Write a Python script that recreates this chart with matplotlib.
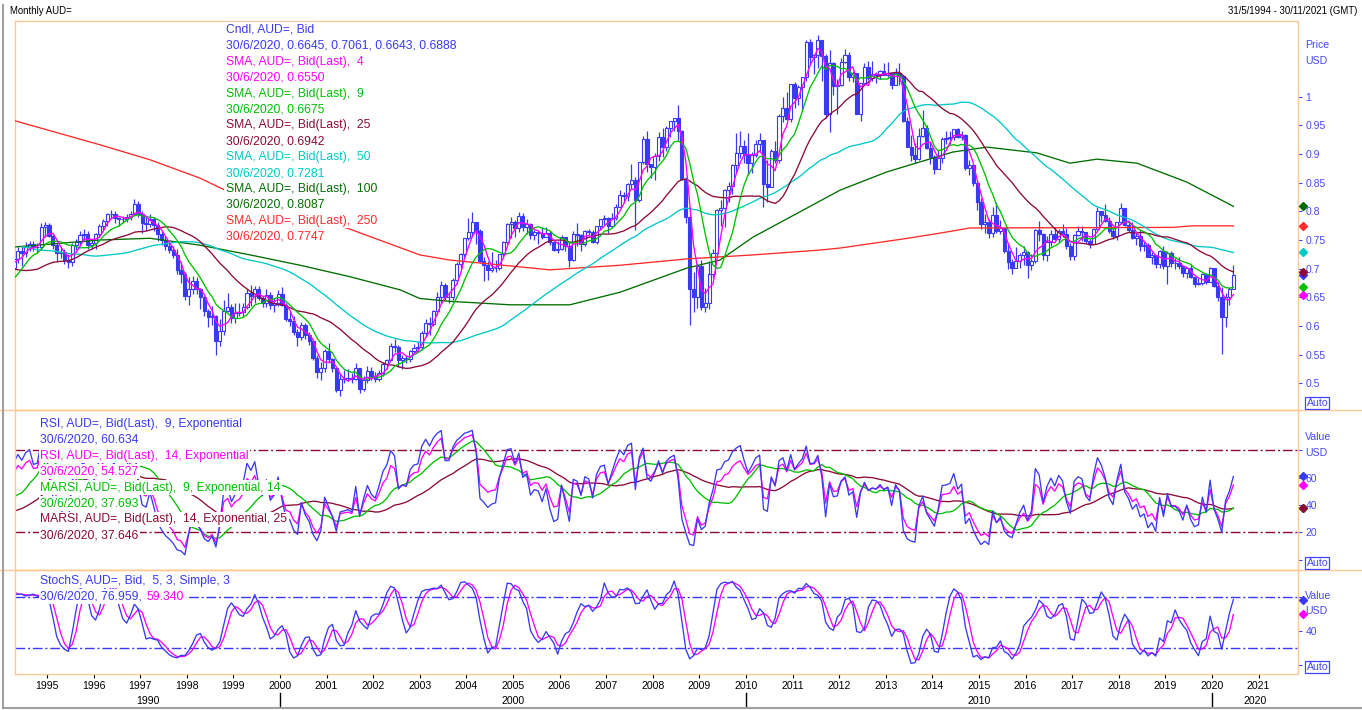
import numpy as np
import pandas as pd
import matplotlib
matplotlib.use("Agg")
import matplotlib.pyplot as plt
from matplotlib.lines import Line2D
from matplotlib.transforms import blended_transform_factory

plt.rcParams['font.family'] = ['Liberation Sans', 'DejaVu Sans']

W, H = 1362, 710

# Monthly AUD= bid, May 1990 .. Jun 2020 (open = previous month close)
first_open = 0.760
close = np.array([
    0.778, 0.795, 0.815, 0.822, 0.818, 0.791, 0.776, 0.772,                # 1990 May-Dec
    0.779, 0.778, 0.771, 0.780, 0.774, 0.762, 0.779, 0.791, 0.798, 0.790, 0.780, 0.760,
    0.748, 0.752, 0.762, 0.758, 0.752, 0.745, 0.738, 0.712, 0.711, 0.693, 0.689, 0.688,
    0.680, 0.702, 0.708, 0.712, 0.692, 0.674, 0.678, 0.662, 0.648, 0.658, 0.662, 0.679,
    0.708, 0.712, 0.702, 0.717, 0.730, 0.727, 0.738, 0.743, 0.737, 0.738, 0.772, 0.777,
    0.757, 0.741, 0.728, 0.729, 0.715, 0.711, 0.741, 0.746, 0.758, 0.761, 0.741, 0.744,
    0.760, 0.775, 0.783, 0.796, 0.796, 0.788, 0.786, 0.787, 0.790, 0.795, 0.813, 0.795,
    0.780, 0.778, 0.786, 0.776, 0.760, 0.750, 0.740, 0.733, 0.723, 0.697, 0.690, 0.652,
    0.665, 0.678, 0.665, 0.651, 0.626, 0.615, 0.618, 0.573, 0.591, 0.627, 0.633, 0.614,
    0.622, 0.625, 0.633, 0.658, 0.653, 0.665, 0.649, 0.640, 0.654, 0.636, 0.640, 0.656,
    0.637, 0.612, 0.609, 0.590, 0.580, 0.602, 0.585, 0.574, 0.544, 0.520, 0.527, 0.557,
    0.543, 0.526, 0.489, 0.508, 0.509, 0.510, 0.507, 0.526, 0.490, 0.506, 0.521, 0.512,
    0.508, 0.518, 0.533, 0.541, 0.566, 0.563, 0.540, 0.544, 0.543, 0.557, 0.562, 0.563,
    0.587, 0.606, 0.603, 0.626, 0.650, 0.671, 0.651, 0.651, 0.681, 0.708, 0.726, 0.753,
    0.764, 0.781, 0.766, 0.713, 0.706, 0.698, 0.701, 0.702, 0.725, 0.746, 0.778, 0.781,
    0.771, 0.792, 0.773, 0.778, 0.759, 0.764, 0.763, 0.755, 0.763, 0.747, 0.733, 0.734,
    0.755, 0.740, 0.716, 0.760, 0.758, 0.743, 0.766, 0.764, 0.746, 0.774, 0.787, 0.789,
    0.775, 0.789, 0.808, 0.829, 0.826, 0.848, 0.855, 0.819, 0.886, 0.927, 0.883, 0.877,
    0.897, 0.929, 0.913, 0.945, 0.957, 0.963, 0.940, 0.856, 0.790, 0.665, 0.650, 0.704,
    0.633, 0.640, 0.691, 0.728, 0.802, 0.806, 0.837, 0.844, 0.881, 0.901, 0.914, 0.898,
    0.884, 0.898, 0.917, 0.924, 0.847, 0.842, 0.905, 0.889, 0.967, 0.980, 0.961, 1.022,
    0.998, 1.017, 1.034, 1.096, 1.070, 1.073, 1.098, 1.071, 0.970, 1.059, 1.018, 1.020,
    1.061, 1.073, 1.034, 1.041, 0.969, 1.024, 1.052, 1.033, 1.039, 1.037, 1.044, 1.038,
    1.041, 1.021, 1.042, 1.036, 0.957, 0.913, 0.898, 0.891, 0.932, 0.946, 0.911, 0.894,
    0.874, 0.893, 0.927, 0.928, 0.930, 0.943, 0.929, 0.934, 0.875, 0.880, 0.850, 0.817,
    0.778, 0.781, 0.762, 0.794, 0.765, 0.771, 0.730, 0.711, 0.702, 0.713, 0.723, 0.729,
    0.706, 0.713, 0.767, 0.760, 0.723, 0.746, 0.760, 0.751, 0.766, 0.761, 0.739, 0.722,
    0.759, 0.766, 0.764, 0.748, 0.743, 0.769, 0.800, 0.794, 0.784, 0.765, 0.757, 0.781,
    0.806, 0.777, 0.768, 0.753, 0.757, 0.740, 0.742, 0.720, 0.723, 0.708, 0.731, 0.705,
    0.727, 0.710, 0.710, 0.705, 0.693, 0.702, 0.685, 0.674, 0.675, 0.690, 0.676, 0.702,
    0.669, 0.651, 0.615, 0.651, 0.6645, 0.6888,                            # 2020 Jan-Jun
])
high = np.array([
    0.782, 0.800, 0.820, 0.835, 0.830, 0.822, 0.795, 0.785,
    0.785, 0.790, 0.782, 0.785, 0.785, 0.778, 0.782, 0.795, 0.805, 0.800, 0.793, 0.782,
    0.765, 0.760, 0.765, 0.765, 0.762, 0.756, 0.748, 0.740, 0.725, 0.715, 0.698, 0.695,
    0.695, 0.708, 0.716, 0.720, 0.718, 0.698, 0.690, 0.682, 0.667, 0.662, 0.670, 0.682,
    0.712, 0.723, 0.720, 0.722, 0.738, 0.740, 0.746, 0.748, 0.748, 0.745, 0.780, 0.782,
    0.780, 0.762, 0.745, 0.738, 0.735, 0.725, 0.745, 0.752, 0.765, 0.770, 0.765, 0.750,
    0.762, 0.778, 0.787, 0.797, 0.803, 0.800, 0.790, 0.792, 0.795, 0.800, 0.822, 0.818,
    0.800, 0.790, 0.795, 0.790, 0.782, 0.765, 0.757, 0.745, 0.740, 0.735, 0.712, 0.695,
    0.685, 0.688, 0.685, 0.667, 0.652, 0.630, 0.635, 0.620, 0.612, 0.645, 0.657, 0.638,
    0.640, 0.640, 0.640, 0.665, 0.672, 0.670, 0.670, 0.653, 0.665, 0.660, 0.648, 0.662,
    0.668, 0.640, 0.625, 0.617, 0.595, 0.607, 0.605, 0.590, 0.578, 0.550, 0.537, 0.560,
    0.570, 0.545, 0.527, 0.518, 0.523, 0.525, 0.518, 0.535, 0.527, 0.512, 0.530, 0.528,
    0.520, 0.524, 0.538, 0.543, 0.570, 0.577, 0.567, 0.550, 0.550, 0.558, 0.568, 0.573,
    0.591, 0.612, 0.615, 0.628, 0.660, 0.678, 0.675, 0.660, 0.683, 0.712, 0.728, 0.753,
    0.788, 0.798, 0.780, 0.770, 0.720, 0.713, 0.729, 0.716, 0.726, 0.748, 0.780, 0.790,
    0.785, 0.799, 0.797, 0.787, 0.780, 0.768, 0.766, 0.772, 0.772, 0.766, 0.748, 0.748,
    0.759, 0.753, 0.746, 0.765, 0.780, 0.760, 0.768, 0.770, 0.767, 0.775, 0.787, 0.794,
    0.790, 0.797, 0.812, 0.838, 0.834, 0.849, 0.882, 0.860, 0.886, 0.932, 0.940, 0.883,
    0.901, 0.939, 0.945, 0.949, 0.958, 0.963, 0.985, 0.942, 0.860, 0.808, 0.695, 0.710,
    0.716, 0.666, 0.713, 0.735, 0.804, 0.820, 0.839, 0.852, 0.883, 0.936, 0.940, 0.925,
    0.937, 0.903, 0.924, 0.937, 0.925, 0.890, 0.909, 0.922, 0.970, 0.999, 1.009, 1.022,
    1.025, 1.021, 1.035, 1.098, 1.101, 1.074, 1.108, 1.078, 1.075, 1.081, 1.061, 1.030,
    1.067, 1.084, 1.078, 1.045, 1.041, 1.024, 1.058, 1.062, 1.062, 1.043, 1.047, 1.058,
    1.060, 1.042, 1.050, 1.059, 1.036, 0.964, 0.934, 0.920, 0.945, 0.976, 0.950, 0.921,
    0.898, 0.907, 0.930, 0.941, 0.940, 0.944, 0.946, 0.941, 0.935, 0.890, 0.883, 0.855,
    0.823, 0.795, 0.787, 0.807, 0.817, 0.785, 0.773, 0.743, 0.717, 0.738, 0.727, 0.739,
    0.731, 0.725, 0.769, 0.784, 0.763, 0.757, 0.768, 0.773, 0.770, 0.778, 0.771, 0.745,
    0.761, 0.775, 0.775, 0.764, 0.751, 0.771, 0.807, 0.800, 0.813, 0.791, 0.773, 0.781,
    0.814, 0.806, 0.783, 0.781, 0.762, 0.768, 0.748, 0.745, 0.729, 0.721, 0.733, 0.739,
    0.730, 0.730, 0.718, 0.721, 0.707, 0.702, 0.708, 0.686, 0.684, 0.693, 0.692, 0.703,
    0.7016, 0.6775, 0.6685, 0.6570, 0.6683, 0.7061,
])
low = np.array([
    0.755, 0.772, 0.790, 0.805, 0.805, 0.785, 0.770, 0.765,
    0.766, 0.772, 0.765, 0.768, 0.768, 0.755, 0.758, 0.775, 0.787, 0.785, 0.775, 0.755,
    0.745, 0.742, 0.750, 0.752, 0.748, 0.738, 0.732, 0.708, 0.702, 0.688, 0.680, 0.676,
    0.665, 0.676, 0.696, 0.698, 0.688, 0.668, 0.665, 0.658, 0.643, 0.640, 0.652, 0.658,
    0.677, 0.702, 0.695, 0.698, 0.710, 0.705, 0.720, 0.730, 0.730, 0.728, 0.735, 0.755,
    0.755, 0.735, 0.712, 0.718, 0.708, 0.702, 0.705, 0.732, 0.740, 0.750, 0.735, 0.735,
    0.735, 0.755, 0.768, 0.775, 0.786, 0.780, 0.775, 0.780, 0.782, 0.785, 0.792, 0.790,
    0.762, 0.768, 0.772, 0.765, 0.748, 0.742, 0.732, 0.727, 0.718, 0.690, 0.675, 0.645,
    0.637, 0.655, 0.655, 0.630, 0.618, 0.598, 0.602, 0.550, 0.565, 0.585, 0.625, 0.605,
    0.605, 0.618, 0.618, 0.630, 0.635, 0.640, 0.645, 0.633, 0.633, 0.630, 0.625, 0.635,
    0.635, 0.608, 0.600, 0.585, 0.565, 0.575, 0.578, 0.567, 0.540, 0.510, 0.506, 0.520,
    0.536, 0.520, 0.485, 0.478, 0.500, 0.504, 0.500, 0.505, 0.484, 0.487, 0.500, 0.505,
    0.502, 0.504, 0.513, 0.525, 0.540, 0.554, 0.528, 0.525, 0.535, 0.538, 0.553, 0.554,
    0.558, 0.580, 0.585, 0.600, 0.620, 0.640, 0.645, 0.640, 0.645, 0.673, 0.700, 0.718,
    0.750, 0.755, 0.743, 0.710, 0.678, 0.680, 0.695, 0.695, 0.698, 0.721, 0.743, 0.754,
    0.755, 0.764, 0.766, 0.760, 0.752, 0.750, 0.743, 0.751, 0.755, 0.742, 0.730, 0.727,
    0.732, 0.731, 0.703, 0.713, 0.740, 0.731, 0.740, 0.759, 0.745, 0.743, 0.767, 0.777,
    0.763, 0.773, 0.785, 0.807, 0.814, 0.818, 0.840, 0.768, 0.816, 0.883, 0.868, 0.858,
    0.855, 0.888, 0.895, 0.906, 0.930, 0.940, 0.925, 0.854, 0.780, 0.601, 0.625, 0.632,
    0.628, 0.625, 0.629, 0.683, 0.721, 0.775, 0.772, 0.817, 0.830, 0.868, 0.893, 0.884,
    0.863, 0.867, 0.894, 0.903, 0.807, 0.816, 0.845, 0.885, 0.884, 0.956, 0.960, 0.955,
    0.980, 0.985, 0.977, 1.027, 1.055, 1.039, 1.050, 1.027, 0.963, 0.939, 1.003, 0.970,
    1.019, 1.058, 1.027, 1.026, 0.969, 0.958, 1.020, 1.029, 1.027, 1.023, 1.031, 1.037,
    1.034, 1.013, 1.029, 1.021, 0.956, 0.913, 0.887, 0.885, 0.889, 0.930, 0.909, 0.882,
    0.865, 0.880, 0.885, 0.918, 0.918, 0.924, 0.928, 0.925, 0.872, 0.863, 0.845, 0.803,
    0.769, 0.762, 0.753, 0.756, 0.762, 0.760, 0.727, 0.700, 0.690, 0.701, 0.702, 0.706,
    0.683, 0.697, 0.710, 0.748, 0.715, 0.713, 0.739, 0.750, 0.746, 0.755, 0.735, 0.716,
    0.716, 0.757, 0.749, 0.745, 0.736, 0.743, 0.767, 0.782, 0.782, 0.762, 0.752, 0.750,
    0.779, 0.774, 0.764, 0.752, 0.741, 0.731, 0.731, 0.720, 0.709, 0.702, 0.702, 0.700,
    0.673, 0.703, 0.700, 0.699, 0.686, 0.684, 0.683, 0.668, 0.671, 0.672, 0.674, 0.676,
    0.6685, 0.6433, 0.5510, 0.5980, 0.6370, 0.6643,
])

# long averages (their history starts long before 1990)
sma100_t = [1994.33, 1996.14, 1997.21, 1998.28, 1999.36, 2000.43, 2001.50, 2002.58, 2003.00,
            2003.65, 2004.94, 2006.22, 2007.30, 2008.73, 2009.44, 2010.15, 2012.02, 2013.03,
            2014.44, 2015.17, 2016.24, 2016.95, 2017.53, 2018.39, 2019.46, 2020.46]
sma100_v = [0.738, 0.750, 0.753, 0.741, 0.724, 0.706, 0.686, 0.663, 0.648,
            0.643, 0.637, 0.637, 0.659, 0.701, 0.715, 0.755, 0.837, 0.869,
            0.9035, 0.912, 0.902, 0.884, 0.891, 0.884, 0.851, 0.8087]
sma250_t = [1994.31, 1996.14, 1997.21, 1998.28, 1998.82, 2001.50, 2003.00, 2003.65, 2004.03,
            2005.79, 2007.30, 2008.73, 2010.15, 2011.59, 2012.02, 2013.47, 2014.16, 2014.81,
            2019.16, 2019.57, 2020.46]
sma250_v = [0.958, 0.916, 0.890, 0.858, 0.837, 0.769, 0.724, 0.715, 0.712,
            0.698, 0.706, 0.717, 0.724, 0.7325, 0.736, 0.753, 0.762, 0.771,
            0.772, 0.7747, 0.7747]

year_ticks = list(range(1995, 2022))
decades = [1990, 2000, 2010, 2020]
price_ticks = [0.5, 0.55, 0.6, 0.65, 0.7, 0.75, 0.8, 0.85, 0.9, 0.95, 1.0]

BLUE = '#3a3af6'
TXTBLUE = '#4646ff'
MAGENTA = '#ff00ff'
GREEN = '#00c000'
MAROON = '#8c0a34'
CYAN = '#00c8c8'
DKGREEN = '#006e00'
RED = '#ff2a2a'
ORANGE = '#ffc894'

price_legend = [
    ('Cndl, AUD=, Bid', BLUE),
    ('30/6/2020, 0.6645, 0.7061, 0.6643, 0.6888', BLUE),
    ('SMA, AUD=, Bid(Last),  4', MAGENTA),
    ('30/6/2020, 0.6550', MAGENTA),
    ('SMA, AUD=, Bid(Last),  9', GREEN),
    ('30/6/2020, 0.6675', GREEN),
    ('SMA, AUD=, Bid(Last),  25', MAROON),
    ('30/6/2020, 0.6942', MAROON),
    ('SMA, AUD=, Bid(Last),  50', CYAN),
    ('30/6/2020, 0.7281', CYAN),
    ('SMA, AUD=, Bid(Last),  100', DKGREEN),
    ('30/6/2020, 0.8087', DKGREEN),
    ('SMA, AUD=, Bid(Last),  250', RED),
    ('30/6/2020, 0.7747', RED),
]
rsi_legend = [
    ('RSI, AUD=, Bid(Last),  9, Exponential', BLUE),
    ('30/6/2020, 60.634', BLUE),
    ('RSI, AUD=, Bid(Last),  14, Exponential', MAGENTA),
    ('30/6/2020, 54.527', MAGENTA),
    ('MARSI, AUD=, Bid(Last),  9, Exponential, 14', GREEN),
    ('30/6/2020, 37.693', GREEN),
    ('MARSI, AUD=, Bid(Last),  14, Exponential, 25', MAROON),
    ('30/6/2020, 37.646', MAROON),
]

# ---- indicators
n = len(close)
t = 1990 + (4 + np.arange(n) + 0.5) / 12.0
opn = np.r_[first_open, close[:-1]]
high = np.maximum(high, np.maximum(opn, close))
low = np.minimum(low, np.minimum(opn, close))

c = pd.Series(close)
sma = {k: c.rolling(k).mean().values for k in (4, 9, 25, 50)}


def rsi(s, period):
    # exponential smoothing of gains and losses
    d = s.diff()
    up = d.clip(lower=0).ewm(span=period, adjust=False).mean()
    dn = (-d.clip(upper=0)).ewm(span=period, adjust=False).mean()
    return 100 - 100 / (1 + up / dn)


rsi9 = rsi(c, 9)
rsi14 = rsi(c, 14)
marsi9 = rsi9.rolling(14).mean()
marsi14 = rsi14.rolling(25).mean()

hh = pd.Series(high).rolling(5).max()
ll = pd.Series(low).rolling(5).min()
fast_k = (c - ll) / (hh - ll) * 100
slow_k = fast_k.rolling(3).mean()
slow_d = slow_k.rolling(3).mean()

# ---- layout (pixel based)
fig = plt.figure(figsize=(W / 100, H / 100), dpi=100)
fig.patch.set_facecolor('white')


def rect(x0, y0, x1, y1):
    return [x0 / W, 1 - y1 / H, (x1 - x0) / W, (y1 - y0) / H]


ax_p = fig.add_axes(rect(15, 21, 1298, 410))
ax_r = fig.add_axes(rect(15, 410, 1298, 570))
ax_s = fig.add_axes(rect(15, 570, 1298, 674))

x0, x1 = 1994.313, 2021.845
for ax in (ax_p, ax_r, ax_s):
    ax.set_xlim(x0, x1)
    ax.yaxis.tick_right()
    ax.tick_params(axis='y', direction='out', length=3, width=0.8, colors=TXTBLUE,
                   labelsize=7.5, pad=2.5)
    ax.tick_params(axis='x', bottom=False, labelbottom=False)
    for sp in ax.spines.values():
        sp.set_color(ORANGE)
        sp.set_linewidth(1.0)

ax_p.set_ylim(0.4535, 1.132)
ax_r.set_ylim(-7.6, 109.4)
ax_s.set_ylim(-9.9, 111.0)

# candles
vis = t > x0 - 0.1
tv, o, hi, lo, cl = t[vis], opn[vis], high[vis], low[vis], close[vis]
up = cl >= o
ax_p.vlines(tv, lo, hi, color=BLUE, lw=0.9, zorder=2)
bw = 0.8 / 12
ax_p.bar(tv[up], (cl - o)[up], bottom=o[up], width=bw, facecolor='white',
         edgecolor=BLUE, lw=0.8, zorder=3)
ax_p.bar(tv[~up], (o - cl)[~up], bottom=cl[~up], width=bw, facecolor=BLUE,
         edgecolor=BLUE, lw=0.8, zorder=3)

lw = 0.95
ax_p.plot(sma250_t, sma250_v, color=RED, lw=lw, zorder=4)
ax_p.plot(sma100_t, sma100_v, color=DKGREEN, lw=lw, zorder=4)
ax_p.plot(t, sma[50], color=CYAN, lw=lw, zorder=4)
ax_p.plot(t, sma[25], color=MAROON, lw=lw, zorder=4)
ax_p.plot(t, sma[9], color=GREEN, lw=lw, zorder=4)
ax_p.plot(t, sma[4], color=MAGENTA, lw=lw, zorder=4)
ax_p.set_yticks(price_ticks)
ax_p.set_yticklabels([f'{v:g}' for v in price_ticks])

dd = (7, 2, 1.5, 2)
ax_r.axhline(80, color=MAROON, lw=1.0, dashes=dd)
ax_r.axhline(20, color=MAROON, lw=1.0, dashes=dd)
ax_r.plot(t, marsi14, color=MAROON, lw=lw)
ax_r.plot(t, marsi9, color=GREEN, lw=lw)
ax_r.plot(t, rsi14, color=MAGENTA, lw=lw)
ax_r.plot(t, rsi9, color=BLUE, lw=lw)
ax_r.set_yticks([0, 20, 40, 60, 80])
ax_r.set_yticklabels(['', '20', '40', '60', ''])

ax_s.axhline(80, color=BLUE, lw=1.0, dashes=dd)
ax_s.axhline(20, color=BLUE, lw=1.0, dashes=dd)
ax_s.plot(t, slow_d, color=MAGENTA, lw=lw)
ax_s.plot(t, slow_k, color=BLUE, lw=lw)
ax_s.set_yticks([0, 40, 80])
ax_s.set_yticklabels(['', '40', ''])

# x axis: years and decades
ax_s.set_xticks(year_ticks)
ax_s.set_xticklabels([str(y) for y in year_ticks])
ax_s.tick_params(axis='x', bottom=True, labelbottom=True, direction='out', length=2.8,
                 width=0.8, colors='black', labelsize=7.6, pad=2)
bt = blended_transform_factory(ax_s.transData, fig.transFigure)
for d in decades:
    a, b = max(d, x0), min(d + 10, x1)
    ax_s.text((a + b) / 2, 1 - 701 / H, str(d), transform=bt, ha='center', va='center',
              fontsize=7.6, color='black', clip_on=False)
    if x0 < d < x1:
        fig.add_artist(Line2D([d, d], [1 - 693 / H, 1 - 707 / H], transform=bt,
                              color='black', lw=1.0))


# last value diamonds on the right axis
def diamond(ax, v, col):
    tr = blended_transform_factory(ax.transAxes, ax.transData)
    ax.plot([1.0037], [v], marker='D', ms=4.5, color=col, mec=col, transform=tr,
            clip_on=False, zorder=6)


diamond(ax_p, sma100_v[-1], DKGREEN)
diamond(ax_p, sma250_v[-1], RED)
diamond(ax_p, sma[50][-1], CYAN)
diamond(ax_p, close[-1], BLUE)
diamond(ax_p, sma[25][-1], MAROON)
diamond(ax_p, sma[9][-1], GREEN)
diamond(ax_p, sma[4][-1], MAGENTA)
diamond(ax_r, rsi9.iloc[-1], BLUE)
diamond(ax_r, rsi14.iloc[-1], MAGENTA)
diamond(ax_r, marsi9.iloc[-1], GREEN)
diamond(ax_r, marsi14.iloc[-1], MAROON)
diamond(ax_s, slow_k.iloc[-1], BLUE)
diamond(ax_s, slow_d.iloc[-1], MAGENTA)

# panel separators and outer frame
for y in (410, 570):
    fig.add_artist(Line2D([0, 1], [1 - y / H, 1 - y / H], color=ORANGE, lw=1.0))
fig.add_artist(Line2D([2.5 / W, 2.5 / W], [1 - 5 / H, 1 - 707.5 / H], color='#a0a0a0', lw=1.5))
fig.add_artist(Line2D([2.5 / W, 1], [1 - 707.5 / H, 1 - 707.5 / H], color='#a0a0a0', lw=1.5))

BOX = dict(boxstyle='square,pad=0.14', fc='white', ec='none')


def ftext(x, y, s, col, size=8.7):
    return fig.text(x / W, 1 - y / H, s, color=col, fontsize=size, va='center', ha='left',
                    bbox=BOX)


for i, (s, col) in enumerate(price_legend):
    ftext(225.5, 30 + i * 15.9, s, col)
for i, (s, col) in enumerate(rsi_legend):
    ftext(40.3, 424 + i * 15.9, s, col)
ftext(40.3, 580.7, 'StochS, AUD=, Bid,  5, 3, Simple, 3', BLUE)
t1 = ftext(40.3, 596.7, '30/6/2020, 76.959, ', BLUE)
fig.canvas.draw()
ext = t1.get_window_extent()
ftext(ext.x1 + 1, 596.7, '59.340', MAGENTA)

# right-hand axis captions
for y, s in [(45, 'Price'), (61, 'USD'), (437, 'Value'), (453, 'USD'), (596, 'Value'), (611, 'USD')]:
    fig.text(1305 / W, 1 - y / H, s, color=TXTBLUE, fontsize=7.6, va='center', ha='left')
for y in (403, 563, 667):
    fig.text(1306.5 / W, 1 - y / H, 'Auto', color=TXTBLUE, fontsize=7.6, va='center', ha='left',
             bbox=dict(boxstyle='square,pad=0.12', fc='white', ec=TXTBLUE, lw=0.9))

fig.text(10 / W, 1 - 11 / H, 'Monthly AUD=', color='black', fontsize=6.9, va='center', ha='left')
fig.text(1357 / W, 1 - 11 / H, '31/5/1994 - 30/11/2021 (GMT)', color='black', fontsize=6.9,
         va='center', ha='right')

fig.savefig('out.png', dpi=100, facecolor='white')
